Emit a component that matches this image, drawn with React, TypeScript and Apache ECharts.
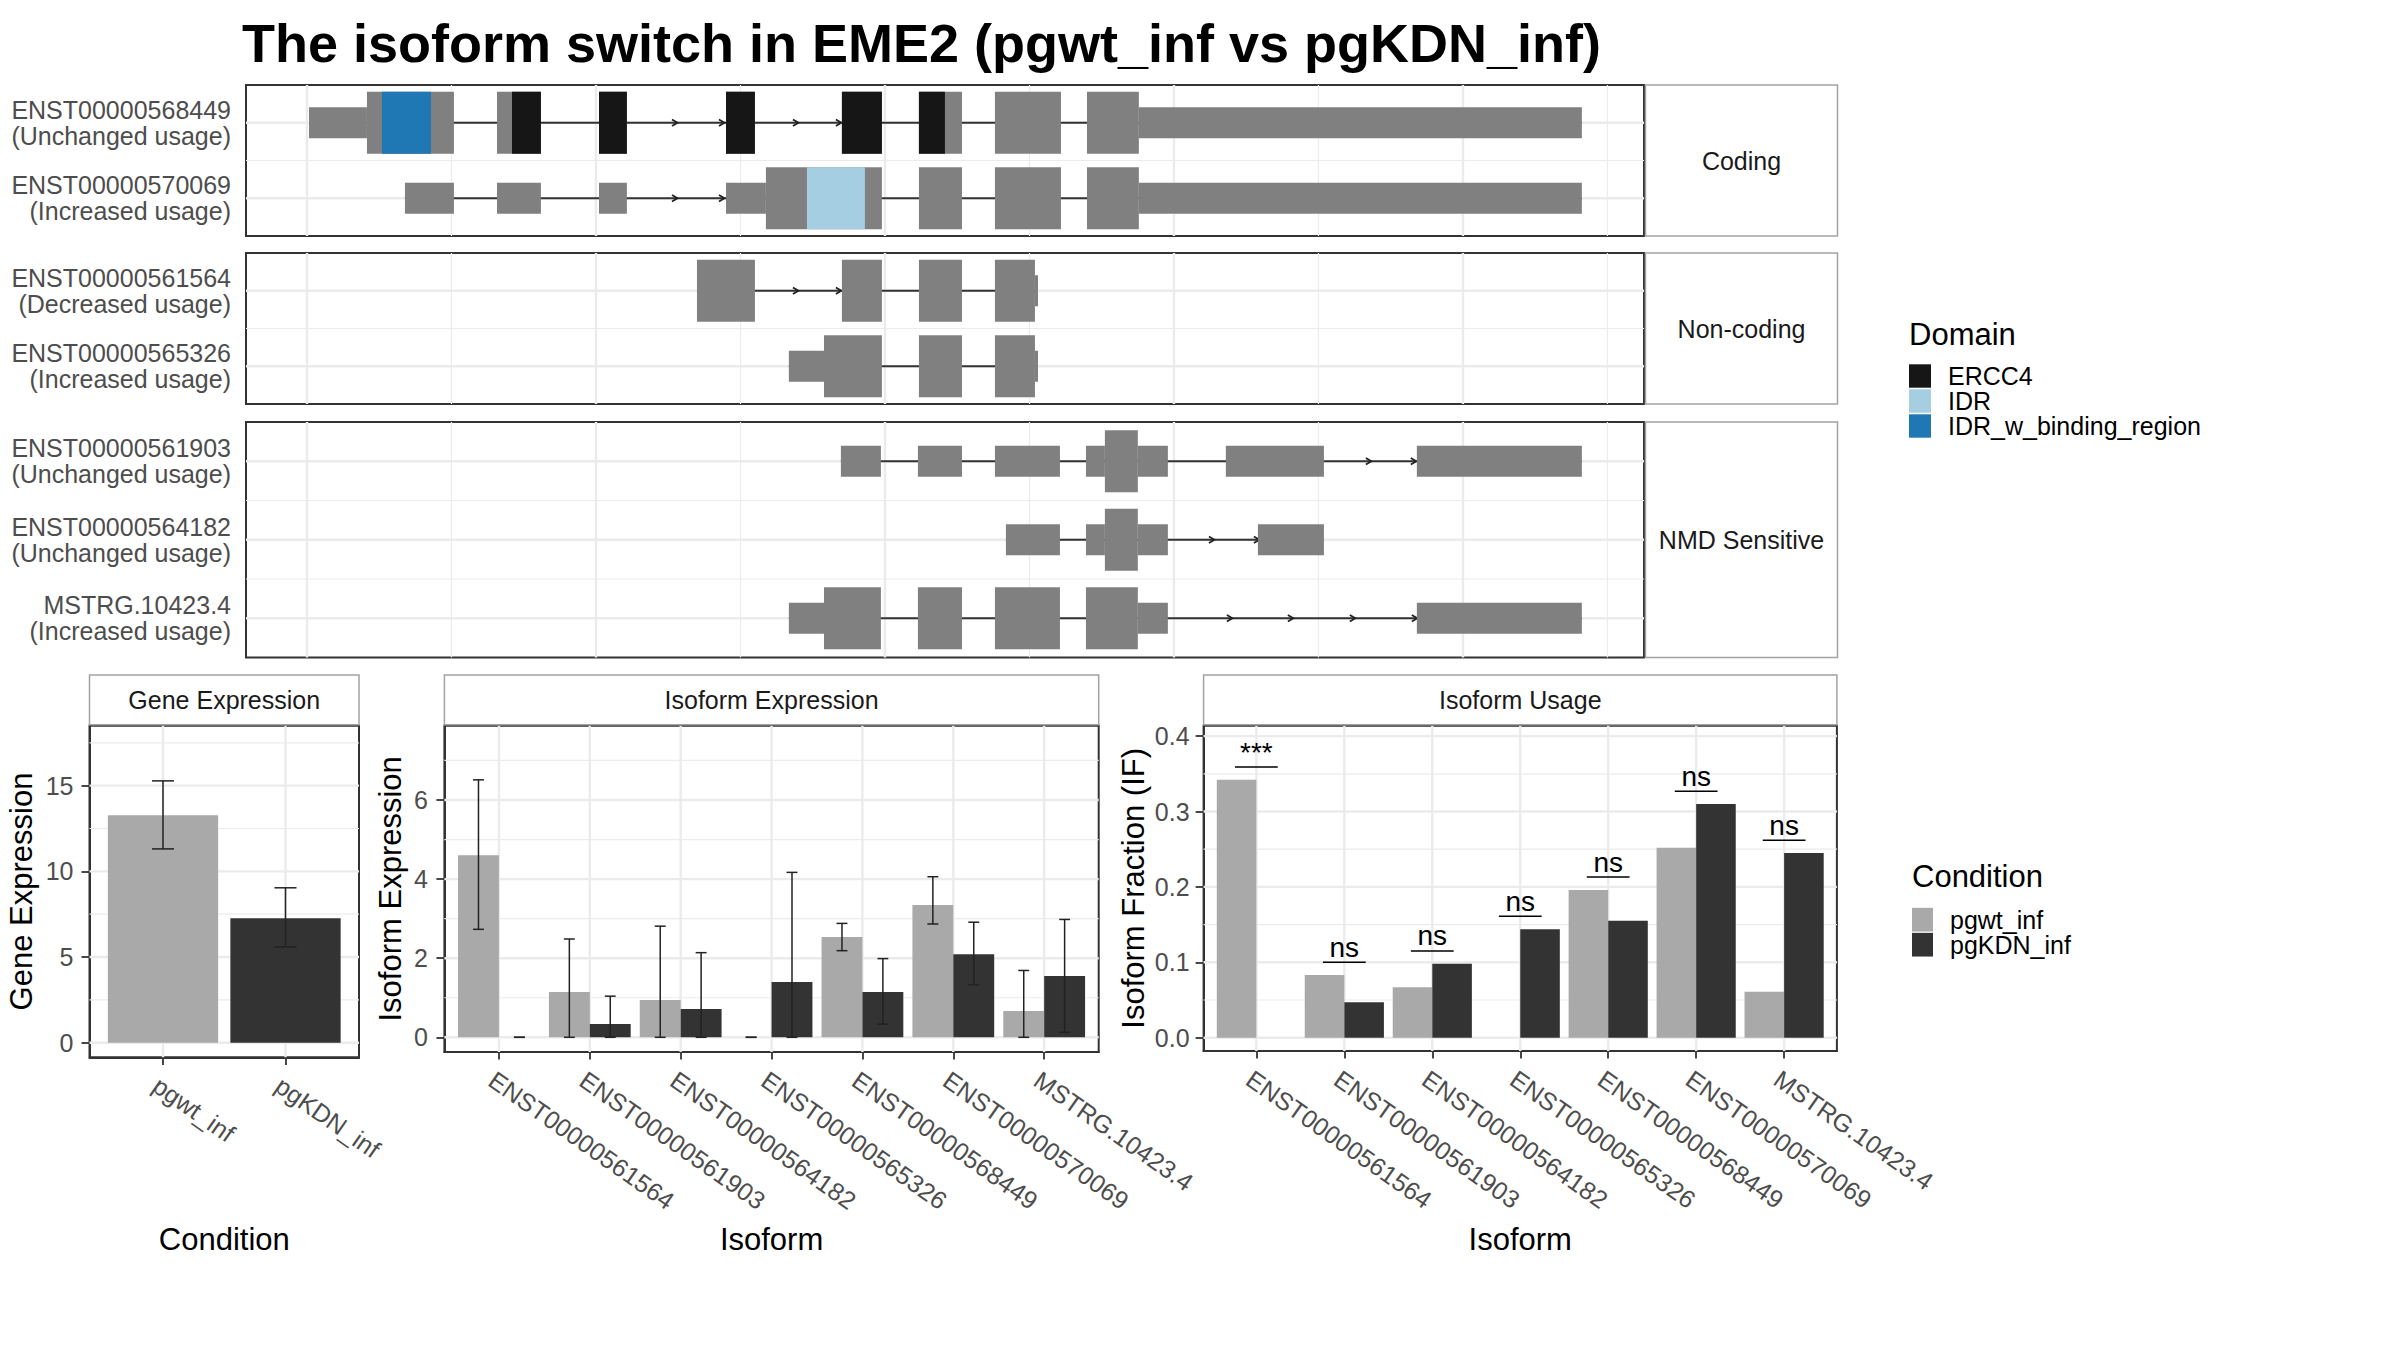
import React, { useEffect, useRef } from "react";
import * as echarts from "echarts";

const FONT = "'Liberation Sans', Arial, Helvetica, sans-serif";
const TITLE = "The isoform switch in EME2 (pgwt_inf vs pgKDN_inf)";

// ---------------- transcript structure panels ----------------
const panelNames = ["Coding", "Non-coding", "NMD Sensitive"];
const codingIds = ["ENST00000568449", "ENST00000570069"];
const codingUsage = ["Unchanged usage", "Increased usage"];
const nonCodingIds = ["ENST00000561564", "ENST00000565326"];
const nonCodingUsage = ["Decreased usage", "Increased usage"];
const nmdIds = ["ENST00000561903", "ENST00000564182", "MSTRG.10423.4"];
const nmdUsage = ["Unchanged usage", "Unchanged usage", "Increased usage"];

// exons [start, end] (relative bp), ORF (tall part) [start, end], intron arrow positions
const exons568449 = [[14, 1017], [1315, 1619], [2021, 2214], [2900, 3100], [3702, 3979], [4235, 4533], [4761, 5218], [5398, 8823]];
const orf568449 = [415, 5757];
const arrows568449 = [2547, 2872, 3384, 3681];
const exons570069 = [[678, 1017], [1315, 1619], [2021, 2214], [2900, 3979], [4235, 4533], [4761, 5218], [5398, 8823]];
const orf570069 = [3176, 5757];
const arrows570069 = [2547, 2872];
const exons561564 = [[2699, 3100], [3702, 3979], [4235, 4533], [4761, 5059]];
const orf561564 = [2699, 5038];
const arrows561564 = [3384, 3681];
const exons565326 = [[3335, 3979], [4235, 4533], [4761, 5059]];
const orf565326 = [3578, 5038];
const arrows565326: number[] = [];
const exons561903 = [[3695, 3972], [4228, 4533], [4761, 5211], [5391, 5958], [6359, 7038], [7681, 8823]];
const orf561903 = [5522, 5750];
const arrows561903 = [7349, 7660];
const exons564182 = [[4837, 5211], [5391, 5958], [6581, 7038]];
const orf564182 = [5522, 5750];
const arrows564182 = [6263, 6574];
const exonsMSTRG = [[3335, 3972], [4228, 4533], [4761, 5211], [5391, 5958], [7681, 8823]];
const orfMSTRG = [3578, 5750];
const arrowsMSTRG = [6387, 6809, 7238, 7667];

const genomeExtent = [-422, 9253];
const genomeMajor = [0, 2000, 4000, 6000, 8000];
const genomeMinor = [1000, 3000, 5000, 7000, 9000];

// domains (coding panel): [row, start, end]
const domainNames = ["ERCC4", "IDR", "IDR_w_binding_region"];
const domainColors = ["#161616", "#a6cee3", "#1f78b4"];
const domainERCC4 = [[0, 1419, 4415]];
const domainIDR = [[1, 3460, 3861]];
const domainIDRwb = [[0, 519, 858]];

// ---------------- expression panels ----------------
const conditions = ["pgwt_inf", "pgKDN_inf"];
const conditionColors = ["#a9a9a9", "#333333"];
const geneMean = [13.28, 7.27];
const geneLo = [11.31, 5.59];
const geneHi = [15.28, 9.04];
const geTicks = [0, 5, 10, 15];
const geMinor = [2.5, 7.5, 12.5, 17.5];

const isoforms = ["ENST00000561564", "ENST00000561903", "ENST00000564182", "ENST00000565326", "ENST00000568449", "ENST00000570069", "MSTRG.10423.4"];
const isoExpWt = [4.6, 1.145, 0.94, 0, 2.535, 3.345, 0.665];
const isoExpWtLo = [2.73, 0, 0, 0, 2.19, 2.865, 0];
const isoExpWtHi = [6.51, 2.485, 2.81, 0, 2.88, 4.06, 1.69];
const isoExpKdn = [0, 0.335, 0.715, 1.4, 1.145, 2.1, 1.55];
const isoExpKdnLo = [0, 0, 0, 0, 0.335, 1.33, 0.125];
const isoExpKdnHi = [0, 1.04, 2.14, 4.17, 1.99, 2.91, 2.98];
const ieTicks = [0, 2, 4, 6];
const ieMinor = [1, 3, 5, 7];

const ifWt = [0.342, 0.083, 0.067, 0, 0.196, 0.252, 0.061];
const ifKdn = [0, 0.047, 0.098, 0.144, 0.155, 0.31, 0.245];
const sigY = [0.359, 0.1, 0.115, 0.161, 0.213, 0.327, 0.262];
const sigLabels = ["***", "ns", "ns", "ns", "ns", "ns", "ns"];
const ifTicks = [0, 0.1, 0.2, 0.3, 0.4];
const ifMinor = [0.05, 0.15, 0.25, 0.35];

// ---------------- styling ----------------
const EXON = "#808080";
const GRID_COLOR = "#ebebeb";
const TALL = 62;
const THIN = 31;
const tickLine = { color: "#333333", width: 1.8 };
const tickLabel = { fontSize: 25, color: "#4d4d4d", fontFamily: FONT };
const axisTitle = { fontSize: 31, lineHeight: 31, color: "#000000", fontFamily: FONT };

function exonPieces(exons: number[][], orf: number[]) {
  const out: number[][] = [];
  for (const [s, e] of exons) {
    const a = Math.max(s, Math.min(e, orf[0]));
    const b = Math.max(s, Math.min(e, orf[1]));
    if (a > s) out.push([s, a, 0]);
    if (b > a) out.push([a, b, 1]);
    if (e > b) out.push([b, e, 0]);
  }
  return out;
}

function domainPieces(exons: number[][], orf: number[], ds: number, de: number) {
  const out: number[][] = [];
  for (const [s, e] of exons) {
    const a = Math.max(s, ds, orf[0]);
    const b = Math.min(e, de, orf[1]);
    if (b > a) out.push([a, b]);
  }
  return out;
}

function vGrid(gi: number, major: number[], minor: number[], yRef: number) {
  return {
    type: "custom", xAxisIndex: gi, yAxisIndex: gi, z: 1, silent: true,
    data: major.map((v) => [v, yRef, 1]).concat(minor.map((v) => [v, yRef, 0])),
    renderItem: (params: any, api: any) => {
      const cs = params.coordSys;
      const x = api.coord([api.value(0), api.value(1)])[0];
      return { type: "line", shape: { x1: x, y1: cs.y, x2: x, y2: cs.y + cs.height }, style: { stroke: GRID_COLOR, lineWidth: api.value(2) ? 2.4 : 1.2 } };
    },
  };
}

function hGrid(gi: number, major: number[], minor: number[], xRef: number) {
  return {
    type: "custom", xAxisIndex: gi, yAxisIndex: gi, z: 1, silent: true,
    data: major.map((v) => [xRef, v, 1]).concat(minor.map((v) => [xRef, v, 0])),
    renderItem: (params: any, api: any) => {
      const cs = params.coordSys;
      const y = api.coord([api.value(0), api.value(1)])[1];
      return { type: "line", shape: { x1: cs.x, y1: y, x2: cs.x + cs.width, y2: y }, style: { stroke: GRID_COLOR, lineWidth: api.value(2) ? 2.4 : 1.2 } };
    },
  };
}

function rowGrid(gi: number, n: number, xRef: number) {
  const data: number[][] = [];
  for (let i = 0; i < n; i++) data.push([xRef, i, i, 1]);
  for (let i = 0; i < n - 1; i++) data.push([xRef, i, i + 1, 0]);
  return {
    type: "custom", xAxisIndex: gi, yAxisIndex: gi, z: 1, silent: true, data,
    renderItem: (params: any, api: any) => {
      const cs = params.coordSys;
      const ya = api.coord([api.value(0), api.value(1)])[1];
      const yb = api.coord([api.value(0), api.value(2)])[1];
      const y = (ya + yb) / 2;
      return { type: "line", shape: { x1: cs.x, y1: y, x2: cs.x + cs.width, y2: y }, style: { stroke: GRID_COLOR, lineWidth: api.value(3) ? 2.4 : 1.2 } };
    },
  };
}

function errSeries(gi: number, xs: number[], lo: number[], hi: number[], offset: number, capW: number) {
  return {
    type: "custom", xAxisIndex: gi, yAxisIndex: gi, z: 4, silent: true,
    data: xs.map((x, i) => [x, lo[i], hi[i]]),
    encode: { x: 0, y: [1, 2] },
    renderItem: (params: any, api: any) => {
      const x = api.value(0) + offset;
      const top = api.coord([x, api.value(2)]);
      const bot = api.coord([x, api.value(1)]);
      const l = api.coord([x - capW / 2, 0])[0];
      const r = api.coord([x + capW / 2, 0])[0];
      const st = { stroke: "#222222", lineWidth: 1.5 };
      return {
        type: "group",
        children: [
          { type: "line", shape: { x1: top[0], y1: top[1], x2: bot[0], y2: bot[1] }, style: st },
          { type: "line", shape: { x1: l, y1: top[1], x2: r, y2: top[1] }, style: st },
          { type: "line", shape: { x1: l, y1: bot[1], x2: r, y2: bot[1] }, style: st },
        ],
      };
    },
  };
}

function bottomXAxis(gi: number, labels: string[], name: string, nameGap: number) {
  const vals = labels.map((_, i) => i + 1);
  return {
    type: "value", gridIndex: gi, min: 0.4, max: labels.length + 0.6,
    name, nameLocation: "middle", nameGap, nameMoveOverlap: false, nameTextStyle: axisTitle,
    axisLine: { show: true, onZero: false, lineStyle: { color: "#333333", width: 2 } },
    axisTick: { show: true, customValues: vals, length: 7.6, lineStyle: tickLine },
    axisLabel: {
      show: true, customValues: vals, formatter: (v: number) => labels[Math.round(v) - 1] ?? "",
      rotate: -35, align: "left", verticalAlign: "top", margin: 15, ...tickLabel,
    },
    splitLine: { show: false }, minorTick: { show: false }, minorSplitLine: { show: false },
  };
}

function bottomYAxis(gi: number, min: number, max: number, ticks: number[], name: string, nameGap: number, margin: number, fmt?: (v: number) => string) {
  return {
    type: "value", gridIndex: gi, min, max,
    name, nameLocation: "middle", nameGap, nameRotate: 90, nameMoveOverlap: false, nameTextStyle: axisTitle,
    axisLine: { show: true, onZero: false, lineStyle: { color: "#333333", width: 2 } },
    axisTick: { show: true, customValues: ticks, length: 8, lineStyle: tickLine },
    axisLabel: { show: true, customValues: ticks, margin, ...tickLabel, formatter: fmt ? fmt : (v: number) => String(v) },
    splitLine: { show: false }, minorTick: { show: false }, minorSplitLine: { show: false },
  };
}

function buildOption() {
  const panels = [
    { ids: codingIds, usage: codingUsage, exons: [exons568449, exons570069], orfs: [orf568449, orf570069], arrows: [arrows568449, arrows570069] },
    { ids: nonCodingIds, usage: nonCodingUsage, exons: [exons561564, exons565326], orfs: [orf561564, orf565326], arrows: [arrows561564, arrows565326] },
    { ids: nmdIds, usage: nmdUsage, exons: [exons561903, exons564182, exonsMSTRG], orfs: [orf561903, orf564182, orfMSTRG], arrows: [arrows561903, arrows564182, arrowsMSTRG] },
  ];
  const topBoxes = [
    { top: 85, height: 151 },
    { top: 253, height: 151 },
    { top: 422, height: 235.5 },
  ];
  const bottomBoxes = [
    { left: 89.5, top: 725.7, width: 269.5, height: 331.6 },
    { left: 444.4, top: 725.7, width: 654.3, height: 326.3 },
    { left: 1203.6, top: 725.7, width: 633.3, height: 325.3 },
  ];
  const bottomStripNames = ["Gene Expression", "Isoform Expression", "Isoform Usage"];

  const gridBase = { show: true, borderColor: "#333333", borderWidth: 2, backgroundColor: "#ffffff", containLabel: false, outerBoundsMode: "none" };
  const grids: any[] = [];
  topBoxes.forEach((b) => grids.push({ ...gridBase, left: 246, width: 1398, top: b.top, height: b.height }));
  bottomBoxes.forEach((b) => grids.push({ ...gridBase, ...b }));

  const xAxes: any[] = [];
  const yAxes: any[] = [];
  panels.forEach((p, i) => {
    xAxes.push({ type: "value", gridIndex: i, min: genomeExtent[0], max: genomeExtent[1], show: false, splitLine: { show: false } });
    yAxes.push({
      type: "category", gridIndex: i, inverse: true, data: p.ids,
      axisLine: { show: false }, axisTick: { show: false }, splitLine: { show: false },
      axisLabel: {
        formatter: (v: string, idx: number) => `${v}\n(${p.usage[idx]})`,
        fontSize: 25, lineHeight: 26, color: "#4d4d4d", fontFamily: FONT, align: "right", margin: 15,
      },
    });
  });
  xAxes.push(bottomXAxis(3, conditions, "Condition", 166.5));
  xAxes.push(bottomXAxis(4, isoforms, "Isoform", 171.8));
  xAxes.push(bottomXAxis(5, isoforms, "Isoform", 172.8));
  yAxes.push(bottomYAxis(3, -0.852, 18.5, geTicks, "Gene Expression", 53, 16));
  yAxes.push(bottomYAxis(4, -0.372, 7.879, ieTicks, "Isoform Expression", 38.4, 16.5));
  yAxes.push(bottomYAxis(5, -0.01764, 0.4138, ifTicks, "Isoform Fraction (IF)", 55, 14, (v: number) => v.toFixed(1)));

  const series: any[] = [];

  // transcript panels
  panels.forEach((p, gi) => {
    series.push(vGrid(gi, genomeMajor, genomeMinor, 0));
    series.push(rowGrid(gi, p.ids.length, 0));
    // intron backbone
    series.push({
      type: "custom", xAxisIndex: gi, yAxisIndex: gi, z: 2, silent: true,
      data: p.exons.map((ex, row) => [ex[0][0], row, ex[ex.length - 1][1]]),
      renderItem: (params: any, api: any) => {
        const a = api.coord([api.value(0), api.value(1)]);
        const b = api.coord([api.value(2), api.value(1)]);
        return { type: "line", shape: { x1: a[0], y1: a[1], x2: b[0], y2: b[1] }, style: { stroke: "#333333", lineWidth: 2 } };
      },
    });
    // intron arrows
    const arrowData: number[][] = [];
    p.arrows.forEach((arr, row) => arr.forEach((x) => arrowData.push([x, row])));
    series.push({
      type: "custom", xAxisIndex: gi, yAxisIndex: gi, z: 2, silent: true, data: arrowData,
      renderItem: (params: any, api: any) => {
        const c = api.coord([api.value(0), api.value(1)]);
        return {
          type: "polyline",
          shape: { points: [[c[0] - 3, c[1] - 3.3], [c[0] + 2.5, c[1]], [c[0] - 3, c[1] + 3.3]] },
          style: { stroke: "#222222", lineWidth: 1.8, fill: "none" },
        };
      },
    });
    // exons
    const exonData: number[][] = [];
    p.exons.forEach((ex, row) => exonPieces(ex, p.orfs[row]).forEach(([s, e, t]) => exonData.push([s, row, e, t])));
    series.push({
      type: "custom", name: "exon", xAxisIndex: gi, yAxisIndex: gi, z: 3, silent: true,
      itemStyle: { color: EXON }, data: exonData, encode: { x: [0, 2], y: 1 },
      renderItem: (params: any, api: any) => {
        const a = api.coord([api.value(0), api.value(1)]);
        const b = api.coord([api.value(2), api.value(1)]);
        const h = api.value(3) ? TALL : THIN;
        return { type: "rect", shape: { x: a[0], y: a[1] - h / 2, width: b[0] - a[0], height: h }, style: { fill: EXON } };
      },
    });
  });

  // domains (coding panel)
  const codingPanel = panels[0];
  [domainERCC4, domainIDR, domainIDRwb].forEach((ranges, d) => {
    const data: number[][] = [];
    ranges.forEach(([row, ds, de]) =>
      domainPieces(codingPanel.exons[row], codingPanel.orfs[row], ds, de).forEach(([s, e]) => data.push([s, row, e]))
    );
    series.push({
      type: "custom", name: domainNames[d], xAxisIndex: 0, yAxisIndex: 0, z: 5, silent: true,
      itemStyle: { color: domainColors[d] }, data, encode: { x: [0, 2], y: 1 },
      renderItem: (params: any, api: any) => {
        const a = api.coord([api.value(0), api.value(1)]);
        const b = api.coord([api.value(2), api.value(1)]);
        return { type: "rect", shape: { x: a[0], y: a[1] - TALL / 2, width: b[0] - a[0], height: TALL }, style: { fill: domainColors[d] } };
      },
    });
  });

  // gene expression
  series.push(vGrid(3, [1, 2], [], 0));
  series.push(hGrid(3, geTicks, geMinor, 1));
  conditions.forEach((c, i) => {
    series.push({
      type: "bar", name: c, xAxisIndex: 3, yAxisIndex: 3, z: 2, silent: true,
      barGap: "-100%", barCategoryGap: "10%",
      itemStyle: { color: conditionColors[i] },
      data: [[i + 1, geneMean[i]]],
    });
  });
  series.push(errSeries(3, [1, 2], geneLo, geneHi, 0, 0.18));

  // isoform expression
  const isoX = isoforms.map((_, i) => i + 1);
  series.push(vGrid(4, isoX, [], 0));
  series.push(hGrid(4, ieTicks, ieMinor, 1));
  [isoExpWt, isoExpKdn].forEach((vals, i) => {
    series.push({
      type: "bar", name: conditions[i], xAxisIndex: 4, yAxisIndex: 4, z: 2, silent: true,
      barGap: "0%", barCategoryGap: "10%", itemStyle: { color: conditionColors[i] },
      data: vals.map((v, k) => [k + 1, v]),
    });
  });
  series.push(errSeries(4, isoX, isoExpWtLo, isoExpWtHi, -0.225, 0.12));
  series.push(errSeries(4, isoX, isoExpKdnLo, isoExpKdnHi, 0.225, 0.12));

  // isoform usage
  series.push(vGrid(5, isoX, [], 0));
  series.push(hGrid(5, ifTicks, ifMinor, 1));
  [ifWt, ifKdn].forEach((vals, i) => {
    series.push({
      type: "bar", name: conditions[i], xAxisIndex: 5, yAxisIndex: 5, z: 2, silent: true,
      barGap: "0%", barCategoryGap: "10%", itemStyle: { color: conditionColors[i] },
      data: vals.map((v, k) => [k + 1, v]),
    });
  });
  series.push({
    type: "custom", xAxisIndex: 5, yAxisIndex: 5, z: 6, silent: true,
    data: sigY.map((y, i) => [i + 1, y, i]),
    renderItem: (params: any, api: any) => {
      const x = api.value(0);
      const y = api.value(1);
      const c = api.coord([x, y]);
      const l = api.coord([x - 0.243, y])[0];
      const r = api.coord([x + 0.243, y])[0];
      return {
        type: "group",
        children: [
          { type: "line", shape: { x1: l, y1: c[1], x2: r, y2: c[1] }, style: { stroke: "#000000", lineWidth: 1.5 } },
          {
            type: "text", x: c[0], y: c[1] - 1,
            style: { text: sigLabels[api.value(2)], fill: "#000000", fontSize: 28, fontFamily: FONT, align: "center", verticalAlign: "bottom" },
          },
        ],
      };
    },
  });

  // graphic: title, strips, legend titles
  const stripStyle = { fill: "#ffffff", stroke: "#a3a3a3", lineWidth: 1.5 };
  const stripText = (text: string, x: number, y: number) => ({
    type: "text", x, y, z: 10,
    style: { text, fill: "#1a1a1a", fontSize: 25, fontFamily: FONT, align: "center", verticalAlign: "middle" },
  });
  const elements: any[] = [
    {
      type: "text", x: 242, y: 43, z: 10,
      style: { text: TITLE, fill: "#000000", fontSize: 54, fontWeight: "bold", fontFamily: FONT, align: "left", verticalAlign: "middle" },
    },
  ];
  topBoxes.forEach((b, i) => {
    elements.push({ type: "rect", z: 9, shape: { x: 1645.5, y: b.top, width: 192, height: b.height }, style: stripStyle });
    elements.push(stripText(panelNames[i], 1741.5, b.top + b.height / 2));
  });
  bottomBoxes.forEach((b, i) => {
    elements.push({ type: "rect", z: 9, shape: { x: b.left, y: 675, width: b.width, height: b.top - 675 - 1 }, style: stripStyle });
    elements.push(stripText(bottomStripNames[i], b.left + b.width / 2, (675 + b.top) / 2));
  });
  elements.push({
    type: "text", x: 1909, y: 334, z: 10,
    style: { text: "Domain", fill: "#000000", fontSize: 31, fontFamily: FONT, align: "left", verticalAlign: "middle" },
  });
  elements.push({
    type: "text", x: 1912, y: 876.6, z: 10,
    style: { text: "Condition", fill: "#000000", fontSize: 31, fontFamily: FONT, align: "left", verticalAlign: "middle" },
  });

  const legendText = { fontSize: 25, lineHeight: 25, color: "#000000", fontFamily: FONT, padding: [0, 0, 0, 12] };

  return {
    animation: false,
    backgroundColor: "#ffffff",
    textStyle: { fontFamily: FONT },
    grid: grids,
    xAxis: xAxes,
    yAxis: yAxes,
    legend: [
      {
        data: domainNames, orient: "vertical", left: 1909, top: 363.5, padding: 0,
        itemWidth: 22, itemHeight: 23.4, itemGap: 0, icon: "rect", selectedMode: false, textStyle: legendText,
      },
      {
        data: conditions, orient: "vertical", left: 1912, top: 907.2, padding: 0,
        itemWidth: 21, itemHeight: 23.7, itemGap: 0, icon: "rect", selectedMode: false, textStyle: legendText,
      },
    ],
    graphic: { elements },
    series,
  };
}

export default function App() {
  const ref = useRef<HTMLDivElement>(null);
  useEffect(() => {
    if (!ref.current) return;
    const chart = echarts.init(ref.current, null, { renderer: "svg" });
    chart.setOption(buildOption() as any);
    return () => chart.dispose();
  }, []);
  return (
    <div
      ref={ref}
      style={{ position: "absolute", left: 0, top: 0, width: 2400, height: 1350, background: "#ffffff" }}
    />
  );
}
